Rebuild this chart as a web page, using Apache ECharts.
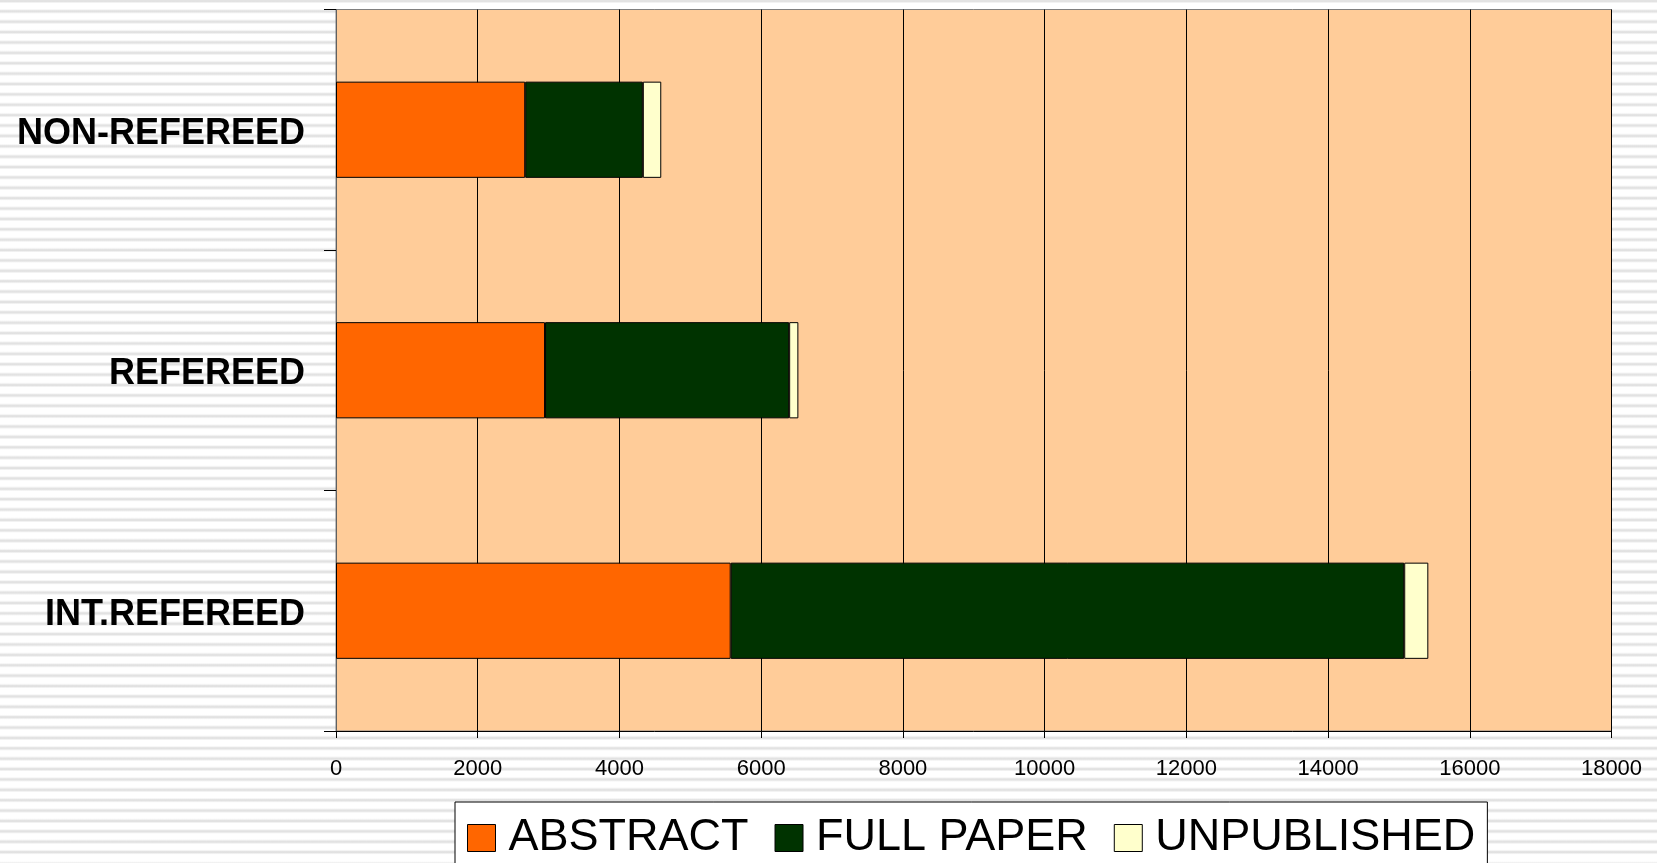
<!DOCTYPE html>
<html>
<head>
<meta charset="utf-8">
<script src="https://cdn.jsdelivr.net/npm/echarts@6/dist/echarts.min.js"></script>
<style>
html,body{margin:0;padding:0;width:1657px;height:863px;overflow:hidden;}
body{
  background-color:#fff;
  background-image:repeating-linear-gradient(to bottom,#ffffff 0px,#ffffff 6.2px,#e9e9e9 7.2px,#dddddd 8.4px,#e9e9e9 9.5px,#ffffff 10.38px);
  background-position:0 -7.4px;
}
#chart{width:1657px;height:863px;}
</style>
</head>
<body>
<div id="chart"></div>
<script>
const categories = ['INT.REFEREED', 'REFEREED', 'NON-REFEREED'];
const seriesNames = ['ABSTRACT', 'FULL PAPER', 'UNPUBLISHED'];
const abstractValues = [5570, 2950, 2670];
const fullPaperValues = [9505, 3445, 1660];
const unpublishedValues = [340, 130, 260];
const xTicks = [0, 2000, 4000, 6000, 8000, 10000, 12000, 14000, 16000, 18000];

const colors = ['#FF6600', '#003300', '#FFFFCC'];
const valuesList = [abstractValues, fullPaperValues, unpublishedValues];

const chart = echarts.init(document.getElementById('chart'), null, {renderer: 'canvas'});
chart.setOption({
  animation: false,
  backgroundColor: 'transparent',
  grid: {
    left: 336, right: 45.5, top: 9.5, bottom: 132,
    show: true, backgroundColor: '#FFCC99', borderColor: '#808080', borderWidth: 1
  },
  legend: {
    left: 455, top: 802,
    orient: 'horizontal',
    backgroundColor: '#ffffff',
    borderColor: '#000000', borderWidth: 1,
    padding: [13, 12, 20, 12],
    icon: 'rect',
    itemWidth: 28, itemHeight: 27, itemGap: 26,
    data: seriesNames,
    itemStyle: {borderColor: '#000', borderWidth: 1},
    textStyle: {
      fontFamily: 'Liberation Sans, Arial, sans-serif',
      fontSize: 45, color: '#000', lineHeight: 46,
      padding: [0, 0, 0, 8]
    }
  },
  xAxis: {
    type: 'value',
    min: xTicks[0], max: xTicks[xTicks.length - 1], interval: xTicks[1] - xTicks[0],
    axisLine: {show: true, lineStyle: {color: '#000', width: 1}},
    axisTick: {show: true, length: 7, lineStyle: {color: '#000'}},
    axisLabel: {
      fontFamily: 'Liberation Sans, Arial, sans-serif',
      fontSize: 22, color: '#000', margin: 27,
      formatter: (v) => String(v)
    },
    splitLine: {show: true, lineStyle: {color: '#000', width: 1}}
  },
  yAxis: {
    type: 'category',
    data: categories,
    axisLine: {show: true, lineStyle: {color: '#606060', width: 1}},
    axisTick: {show: true, length: 12, inside: false, lineStyle: {color: '#000'}},
    axisLabel: {
      margin: 31,
      formatter: (v) => '{a|' + v + '}',
      rich: {
        a: {
          fontFamily: 'Liberation Sans, Arial, sans-serif',
          fontWeight: 'bold', fontSize: 36, color: '#000',
          padding: [8, 0, 0, 0]
        }
      }
    },
    splitLine: {show: false}
  },
  series: seriesNames.map((name, i) => ({
    name: name,
    type: 'bar',
    stack: 'total',
    barWidth: '40%',
    data: valuesList[i],
    itemStyle: {color: colors[i], borderColor: '#000', borderWidth: 1}
  }))
});
</script>
</body>
</html>
